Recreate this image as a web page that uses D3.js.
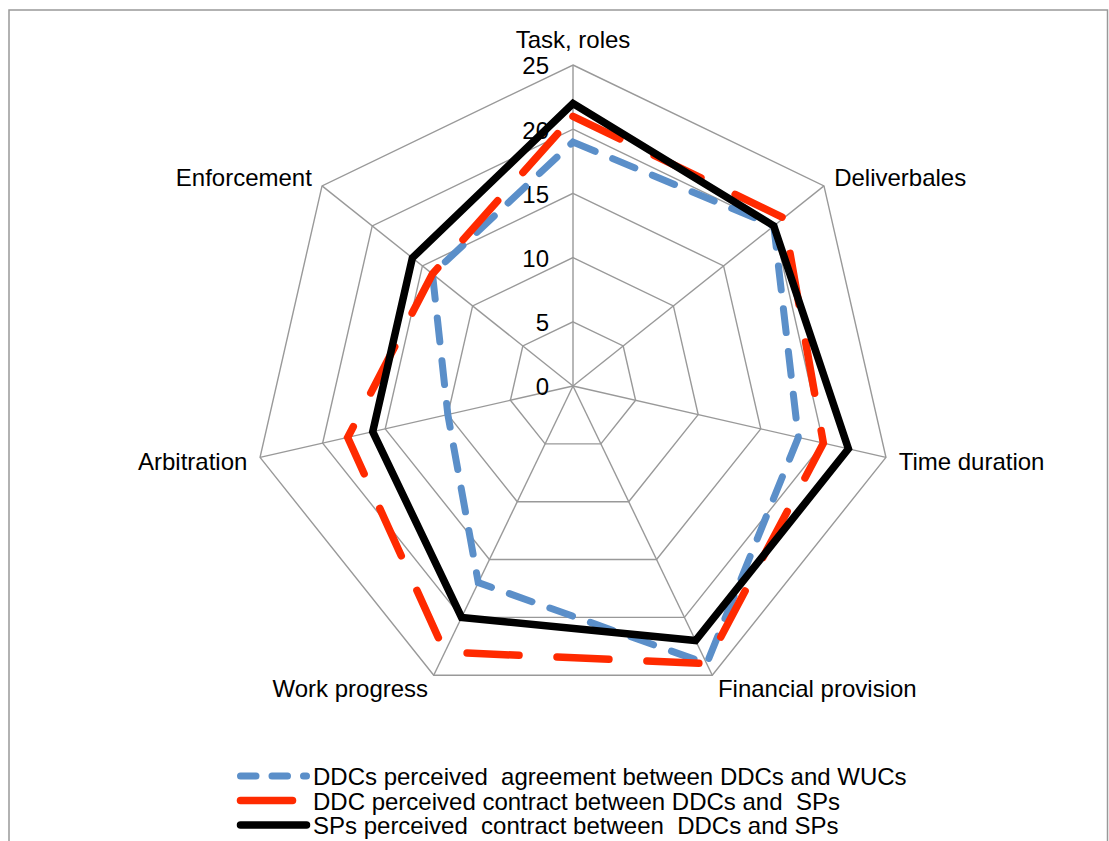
<!DOCTYPE html>
<html>
<head>
<meta charset="utf-8">
<script src="https://cdn.jsdelivr.net/npm/d3@7"></script>
<style>
  html, body { margin: 0; padding: 0; background: #fff; }
  svg { display: block; }
  text { font-family: "Liberation Sans", Arial, sans-serif; fill: #000; }
</style>
</head>
<body>
<svg id="chart" width="1109" height="841"></svg>
<script>
// ---- data ----
const categories = ["Task, roles", "Deliverbales", "Time duration", "Financial provision", "Work progress", "Arbitration", "Enforcement"];
const seriesNames = [
  "DDCs perceived  agreement between DDCs and WUCs",
  "DDC perceived contract between DDCs and  SPs",
  "SPs perceived  contract between  DDCs and SPs"
];
const ddcWucValues = [19, 20, 18, 24, 17, 10, 14];
const ddcSpValues  = [21, 21, 20, 24, 23, 18, 14];
const spValues     = [22, 20, 22, 22, 20, 16, 16];
const tickValues = [0, 5, 10, 15, 20, 25];

// ---- layout / styles ----
const W = 1109, H = 841;
const cx = 573, cy = 386, R = 321;
const FS = "24px";
const seriesStyles = [
  { color: "#5b8fc9", width: 7, dash: "24,19", legendDash: "15.5,16" },
  { color: "#ff2a00", width: 7.5, dash: "52,38", legendDash: "52,38" },
  { color: "#000000", width: 7.5, dash: null, legendDash: null }
];
const seriesValues = [ddcWucValues, ddcSpValues, spValues];

const svg = d3.select("#chart");
svg.append("rect").attr("x", 0).attr("y", 0).attr("width", W).attr("height", H).attr("fill", "#fff");
// frame
svg.append("rect").attr("x", 9).attr("y", 10).attr("width", 1098.5).attr("height", 900)
  .attr("fill", "none").attr("stroke", "#999").attr("stroke-width", 1.5);

const r = d3.scaleLinear().domain([0, 25]).range([0, R]);
const n = categories.length;
const angle = d3.scaleLinear().domain([0, n]).range([0, 2 * Math.PI]);
const px = (i, v) => cx + r(v) * Math.sin(angle(i));
const py = (i, v) => cy - r(v) * Math.cos(angle(i));

const g = svg.append("g");

// grid polygons
const maxV = d3.max(tickValues);
tickValues.filter(t => t > 0).forEach(t => {
  const pts = categories.map((c, i) => [px(i, t), py(i, t)]);
  g.append("polygon").attr("points", pts.map(p => p.join(",")).join(" "))
    .attr("fill", "none").attr("stroke", "#999").attr("stroke-width", 1.4);
});
// spokes
categories.forEach((c, i) => {
  g.append("line").attr("x1", cx).attr("y1", cy).attr("x2", px(i, maxV)).attr("y2", py(i, maxV))
    .attr("stroke", "#999").attr("stroke-width", 1.4);
});

// tick labels
g.selectAll(".tick").data(tickValues).enter().append("text")
  .attr("x", cx - 24).attr("y", d => cy - r(d) + 3)
  .attr("text-anchor", "end").attr("dominant-baseline", "middle")
  .style("font-size", FS).text(d => d);

// category labels
categories.forEach((c, i) => {
  const s = Math.sin(angle(i)), co = Math.cos(angle(i));
  const vx = px(i, maxV), vy = py(i, maxV);
  let anchor = Math.abs(s) < 0.1 ? "middle" : (s > 0 ? "start" : "end");
  let x = vx + s * 13;
  let yc = i === 0 ? vy - 26 : vy - co * 14;
  g.append("text").attr("x", x).attr("y", yc + 9).attr("text-anchor", anchor)
    .style("font-size", FS).text(c);
});

// series
const lineGen = d3.lineRadial()
  .angle((d, i) => angle(i))
  .radius(d => r(d))
  .curve(d3.curveLinearClosed);
seriesValues.forEach((vals, k) => {
  const st = seriesStyles[k];
  const p = g.append("path")
    .attr("transform", `translate(${cx},${cy})`)
    .attr("d", lineGen(vals))
    .attr("fill", "none").attr("stroke", st.color).attr("stroke-width", st.width)
    .attr("stroke-linejoin", "miter").attr("stroke-linecap", st.dash ? "round" : "butt");
  if (st.dash) p.attr("stroke-dasharray", st.dash);
});

// legend
const legY = [776, 800.5, 825];
seriesNames.forEach((name, k) => {
  const st = seriesStyles[k];
  const l = g.append("line").attr("x1", 240.5).attr("x2", 306.5).attr("y1", legY[k]).attr("y2", legY[k])
    .attr("stroke", st.color).attr("stroke-width", st.width)
    .attr("stroke-linecap", "round");
  if (st.legendDash) l.attr("stroke-dasharray", st.legendDash);
  g.append("text").attr("x", 313).attr("y", legY[k] + 9)
    .attr("xml:space", "preserve").style("white-space", "pre")
    .style("font-size", FS).text(name);
});
</script>
</body>
</html>
